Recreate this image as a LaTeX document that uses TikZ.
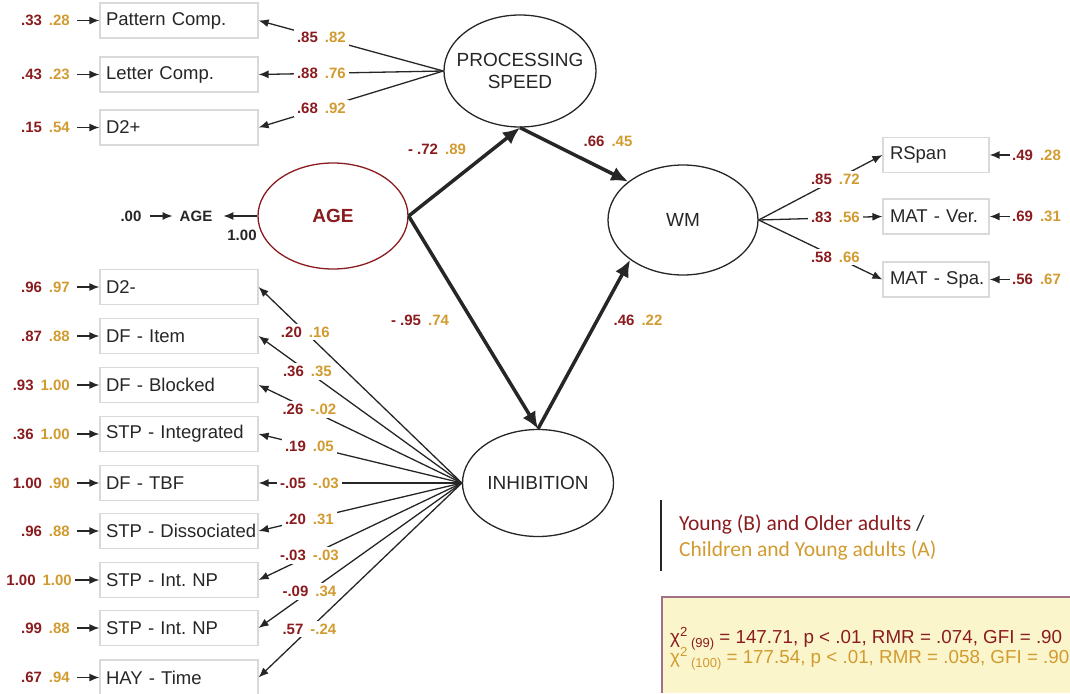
\documentclass[tikz,border=0pt]{standalone}
\usepackage{fontspec}
\setmainfont{Liberation Sans}
\newfontfamily\legendfont{Carlito}
\usetikzlibrary{shapes,arrows.meta}
\definecolor{colB}{HTML}{8A1C1F}
\definecolor{colA}{HTML}{D29B30}
\definecolor{txt}{HTML}{262626}
\definecolor{boxline}{HTML}{D9D9D9}
\definecolor{fitfill}{HTML}{FBF5CC}
\definecolor{fitline}{HTML}{A27087}
\newcommand{\vals}[2]{{\color{colB}#1}\hspace{7pt}{\color{colA}#2}}
\frenchspacing

\begin{document}
\begin{tikzpicture}[x=1pt, y=-1pt, >={Latex[length=10pt,width=8pt]},
    box/.style={draw=boxline, line width=1.2pt, minimum height=35pt, inner xsep=0pt,
                text=txt, align=left, font=\fontsize{18.5}{22}\selectfont},
    ind/.style={box, text width=158pt, execute at begin node=\hspace*{6pt}},
    rind/.style={box, text width=106pt, execute at begin node=\hspace*{7pt}},
    lat/.style={ellipse, draw=txt, line width=1.3pt, inner sep=0pt, text=txt, align=center,
                font=\fontsize{19}{22}\selectfont},
    val/.style={inner sep=2pt, text=txt, font=\bfseries\fontsize{15}{18}\selectfont},
    load/.style={val, fill=white, inner sep=3pt},
    link/.style={->, line width=1.3pt, draw=txt},
    regr/.style={-{Latex[length=17pt,width=15pt]}, line width=3.5pt, draw=txt}]

  \useasboundingbox (0,0) rectangle (1070,693);

  \node[lat, minimum width=152pt, minimum height=112pt] (ps) at (520,71)
       {\makebox[0pt]{PROCESSING}\\\makebox[0pt]{SPEED}};
  \node[lat, draw=colB, text=colB, font=\bfseries\fontsize{19}{22}\selectfont,
        minimum width=150pt, minimum height=106pt] (age) at (333,216) {AGE};
  \node[lat, minimum width=150pt, minimum height=110pt] (wm) at (683,220) {WM};
  \node[lat, minimum width=151pt, minimum height=107pt] (inh) at (538,483) {INHIBITION};

  \node[ind] (pc) at (179,20.5) {Pattern Comp.};
  \node[ind] (lc) at (179,74.5) {Letter Comp.};
  \node[ind] (dplus) at (179,127.5) {D2+};
  \node[ind] (dminus) at (179,287) {D2-};
  \node[ind] (dfitem) at (179,336) {DF - Item};
  \node[ind] (dfblock) at (179,385) {DF - Blocked};
  \node[ind] (stpint) at (179,434) {STP - Integrated};
  \node[ind] (dftbf) at (179,483) {DF - TBF};
  \node[ind] (stpdis) at (179,531) {STP - Dissociated};
  \node[ind] (stpnpa) at (179,580) {STP - Int. NP};
  \node[ind] (stpnpb) at (179,628) {STP - Int. NP};
  \node[ind] (hay) at (179,677.5) {HAY - Time};

  \node[rind] (rspan) at (936,155) {RSpan};
  \node[rind] (matv) at (936,216.5) {MAT - Ver.};
  \node[rind] (mats) at (936,279.5) {MAT - Spa.};

  \node[val, anchor=east] (epc) at (72,20.5) {\vals{.33}{.28}};
  \node[val, anchor=east] (elc) at (72,74.5) {\vals{.43}{.23}};
  \node[val, anchor=east] (edplus) at (72,127.5) {\vals{.15}{.54}};
  \node[val, anchor=east] (edminus) at (72,287) {\vals{.96}{.97}};
  \node[val, anchor=east] (edfitem) at (72,336) {\vals{.87}{.88}};
  \node[val, anchor=east] (edfblock) at (72,385) {\vals{.93}{1.00}};
  \node[val, anchor=east] (estpint) at (72,434) {\vals{.36}{1.00}};
  \node[val, anchor=east] (edftbf) at (72,483) {\vals{1.00}{.90}};
  \node[val, anchor=east] (estpdis) at (72,531) {\vals{.96}{.88}};
  \node[val, anchor=east] (estpnpa) at (74,580) {\vals{1.00}{1.00}};
  \node[val, anchor=east] (estpnpb) at (72,628) {\vals{.99}{.88}};
  \node[val, anchor=east] (ehay) at (72,677.5) {\vals{.67}{.94}};

  \draw[link, shorten <=5pt] (epc) -- (pc);
  \draw[link, shorten <=5pt] (elc) -- (lc);
  \draw[link, shorten <=5pt] (edplus) -- (dplus);
  \draw[link, shorten <=5pt] (edminus) -- (dminus);
  \draw[link, shorten <=5pt] (edfitem) -- (dfitem);
  \draw[link, shorten <=5pt] (edfblock) -- (dfblock);
  \draw[link, shorten <=5pt] (estpint) -- (stpint);
  \draw[link, shorten <=5pt] (edftbf) -- (dftbf);
  \draw[link, shorten <=5pt] (estpdis) -- (stpdis);
  \draw[link, shorten <=1pt] (estpnpa) -- (stpnpa);
  \draw[link, shorten <=5pt] (estpnpb) -- (stpnpb);
  \draw[link, shorten <=5pt] (ehay) -- (hay);

  \node[val, anchor=west] (erspan) at (1010,155) {\vals{.49}{.28}};
  \node[val, anchor=west] (ematv) at (1010,216.5) {\vals{.69}{.31}};
  \node[val, anchor=west] (emats) at (1010,279.5) {\vals{.56}{.67}};
  \draw[link] (erspan) -- (rspan);
  \draw[link] (ematv) -- (matv);
  \draw[link] (emats) -- (mats);

  \draw[link] (ps.west) -- node[load, pos=.66] {\vals{.85}{.82}} (pc.east);
  \draw[link] (ps.west) -- node[load, pos=.66] {\vals{.88}{.76}} (lc.east);
  \draw[link] (ps.west) -- node[load, pos=.66] {\vals{.68}{.92}} (dplus.east);

  \draw[link] (inh.west) -- node[load, pos=.77] {\vals{.20}{.16}} (dminus.east);
  \draw[link] (inh.west) -- node[load, pos=.76] {\vals{.36}{.35}} (dfitem.east);
  \draw[link] (inh.west) -- node[load, pos=.75] {\vals{.26}{-.02}} (dfblock.east);
  \draw[link] (inh.west) -- node[load, pos=.75] {\vals{.19}{.05}} (stpint.east);
  \draw[link] (inh.west) -- node[load, pos=.75] {\vals{-.05}{-.03}} (dftbf.east);
  \draw[link] (inh.west) -- node[load, pos=.75] {\vals{.20}{.31}} (stpdis.east);
  \draw[link] (inh.west) -- node[load, pos=.75] {\vals{-.03}{-.03}} (stpnpa.east);
  \draw[link] (inh.west) -- node[load, pos=.75] {\vals{-.09}{.34}} (stpnpb.east);
  \draw[link] (inh.west) -- node[load, pos=.75] {\vals{.57}{-.24}} (hay.east);

  \draw[link] (wm.east) -- node[load, pos=.62] {\vals{.85}{.72}} (rspan.west);
  \draw[link] (wm.east) -- node[load, pos=.62] {\vals{.83}{.56}} (matv.west);
  \draw[link] (wm.east) -- node[load, pos=.62] {\vals{.58}{.66}} (mats.west);

  \draw[regr] (age.east) -- (ps.south);
  \draw[regr] (ps.south) -- (wm.145);
  \draw[regr] (age.east) -- (inh.north);
  \draw[regr] (inh.north) -- (wm.217);
  \node[val] (bagps) at (437,149) {\vals{- .72}{.89}};
  \node[val] (bpswm) at (608,141) {\vals{.66}{.45}};
  \node[val] (baginh) at (420,320) {\vals{- .95}{.74}};
  \node[val] (binhwm) at (638,320) {\vals{.46}{.22}};

  \node[val] (agevar) at (196,216) {AGE};
  \node[val] (agezero) at (131,216) {.00};
  \node[val] (ageone) at (242,235) {1.00};
  \draw[link, shorten <=6pt, shorten >=5pt] (agezero) -- (agevar);
  \draw[link, shorten >=9pt] (age) -- (agevar);

  \draw[line width=2pt, txt] (661,500) -- (661,571);
  \node[anchor=base west, inner sep=0pt, font=\legendfont\fontsize{21.5}{26}\selectfont] (legb)
       at (679,530) {{\color{colB}Young (B) and Older adults} {\color{txt}/}};
  \node[anchor=base west, inner sep=0pt, font=\legendfont\fontsize{21.5}{26}\selectfont] (lega)
       at (679,556) {\color{colA}Children and Young adults (A)};

  \fill[fitfill] (662,597) rectangle (1070,693);
  \draw[fitline, line width=1.5pt] (662,693) |- (1070,597);
  \node[anchor=base west, inner sep=0pt, text=colB, font=\fontsize{18.8}{22}\selectfont] (fitb)
       at (670,643) {χ\textsuperscript{2}\,\raisebox{-4pt}{\fontsize{13}{13}\selectfont(99)} = 147.71, p < .01, RMR = .074, GFI = .90};
  \node[anchor=base west, inner sep=0pt, text=colA, font=\fontsize{18.8}{22}\selectfont] (fita)
       at (670,663) {χ\textsuperscript{2}\,\raisebox{-4pt}{\fontsize{13}{13}\selectfont(100)} = 177.54, p < .01, RMR = .058, GFI = .90};
\end{tikzpicture}
\end{document}
